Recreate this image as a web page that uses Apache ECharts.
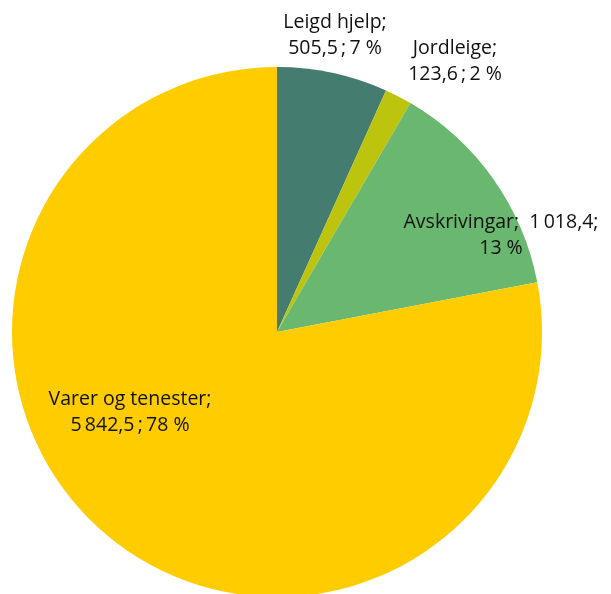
<!DOCTYPE html>
<html><head><meta charset="utf-8">
<script src="https://cdn.jsdelivr.net/npm/echarts@6/dist/echarts.min.js"></script>
<style>html,body{margin:0;padding:0;background:#fff}#c{width:611px;height:594px}</style>
</head><body><div id="c"></div>
<script>
const categories = ['Leigd hjelp', 'Jordleige', 'Avskrivingar', 'Varer og tenester'];
const values = [505.5, 123.6, 1018.4, 5842.5];
const valueLabels = ['505,5', '123,6', '1\u2009018,4', '5\u2009842,5'];
const percentLabels = ['7\u00a0%', '2\u00a0%', '13\u00a0%', '78\u00a0%'];
const colors = ['#447C70', '#BCC40E', '#6AB86F', '#FFCC00'];

const labelTexts = categories.map((c, i) => i === 2
  ? c + ';  ' + valueLabels[i] + ';\n' + percentLabels[i]
  : c + ';\n' + valueLabels[i] + '\u2009;\u2009' + percentLabels[i]);
const labelPos = [[335, 35], [455, 61], [501, 235], [130, 412]];

const chart = echarts.init(document.getElementById('c'));
chart.setOption({
  animation: false,
  series: [{
    type: 'pie',
    center: [277, 332],
    radius: [0, 265],
    startAngle: 90,
    clockwise: true,
    label: {
      show: true,
      position: 'inside',
      color: '#111',
      fontFamily: 'Open Sans',
      fontSize: 19.5,
      lineHeight: 26,
      align: 'center',
      formatter: p => labelTexts[p.dataIndex]
    },
    labelLine: { show: false },
    labelLayout: p => ({ x: labelPos[p.dataIndex][0], y: labelPos[p.dataIndex][1], align: 'center', verticalAlign: 'middle' }),
    emphasis: { disabled: true },
    itemStyle: { borderWidth: 0 },
    data: categories.map((c, i) => ({ name: c, value: values[i], itemStyle: { color: colors[i] } }))
  }]
});
</script></body></html>
